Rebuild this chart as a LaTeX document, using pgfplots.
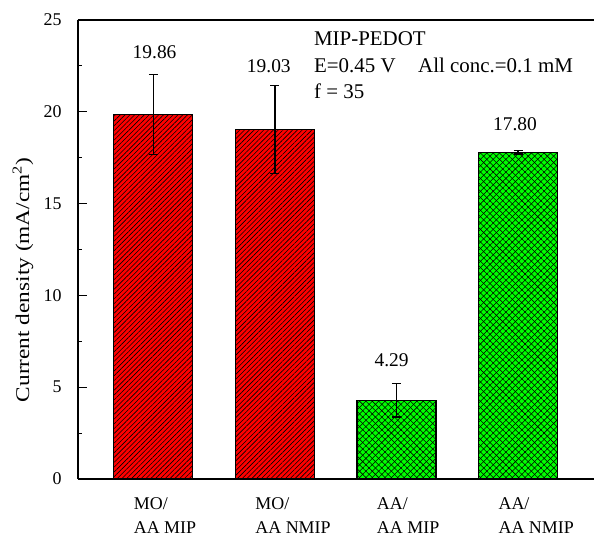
\documentclass[border=0pt]{standalone}
\usepackage{fontspec}
\setmainfont{Liberation Serif}
\usepackage{graphicx}
\usepackage{pgfplots}
\pgfplotsset{compat=1.18}
\usetikzlibrary{patterns.meta}
\begin{document}
\begin{tikzpicture}
\begin{axis}[
  scale only axis, width=516bp, height=459bp,
  xmin=-0.62, xmax=3.625, ymin=0, ymax=25,
  axis lines*=left,
  axis line style={line width=1.3bp, -},
  clip=false,
  ytick={0,5,10,15,20,25},
  minor ytick={2.5,7.5,12.5,17.5,22.5},
  tick align=inside,
  major tick length=9bp, minor tick length=4.5bp,
  every tick/.style={line width=1.1bp, black},
  xtick={0,1,2,3},
  xticklabels={{MO/\\AA MIP},{MO/\\AA NMIP},{AA/\\AA MIP},{AA/\\AA NMIP}},
  x tick style={draw=none},
  xticklabel style={font=\fontsize{18}{24}\selectfont, align=left, anchor=north west, xshift=-23bp, yshift=-15bp},
  yticklabel style={font=\fontsize{18}{20}\selectfont, xshift=-13bp},
  /pgf/number format/assume math mode=true,
  ylabel={\scalebox{1.2}[1]{Current density (mA/cm\textsuperscript{2})}},
  ylabel style={font=\fontsize{19.5}{22}\selectfont, at={(axis description cs:-0.1066,0.4336)}, anchor=center},
]
\addplot[ybar, bar width=79bp, bar shift=0pt, fill=red, draw=black, line width=1.2bp,
  postaction={pattern={Lines[angle=45,distance=3.4bp,line width=0.6bp]}, pattern color=black},
  error bars/.cd, y dir=both, y explicit,
  error bar style={line width=1.4bp, black},
  error mark options={rotate=90, mark size=4.5bp, line width=1.4bp, black}]
  coordinates {(0,19.86) +- (0,2.17) (1,19.03) +- (0,2.40)};
\addplot[ybar, bar width=79bp, bar shift=0pt, fill=green, draw=black, line width=1.2bp,
  postaction={pattern={Lines[angle=45,distance=4.5bp,line width=0.55bp]}, pattern color=black},
  postaction={pattern={Lines[angle=-45,distance=4.5bp,line width=0.55bp]}, pattern color=black},
  error bars/.cd, y dir=both, y explicit,
  error bar style={line width=1.4bp, black},
  error mark options={rotate=90, mark size=4.5bp, line width=1.4bp, black}]
  coordinates {(2,4.29) +- (0,0.92) (3,17.80) +- (0,0.10)};
\draw[line width=1.3bp] (rel axis cs:0,1) -- (rel axis cs:1,1);
\coordinate (O) at (rel axis cs:0,0);
\begin{scope}[font=\fontsize{19.5}{22}\selectfont]
\node[anchor=base] at (axis cs:0.01,22.91) {19.86};
\node[anchor=base] at (axis cs:0.95,22.15) {19.03};
\node[anchor=base] at (axis cs:1.96,6.15) {4.29};
\node[anchor=base] at (axis cs:2.975,18.97) {17.80};
\end{scope}
\begin{scope}[font=\fontsize{21}{24}\selectfont]
\node[anchor=base west, inner sep=0pt] at (axis cs:1.321,23.6) {MIP-PEDOT};
\node[anchor=base west, inner sep=0pt] at (axis cs:1.321,22.13) {E=0.45 V};
\node[anchor=base west, inner sep=0pt] at (axis cs:2.177,22.13) {All conc.=0.1 mM};
\node[anchor=base west, inner sep=0pt] at (axis cs:1.321,20.7) {f = 35};
\end{scope}
\end{axis}
\pgfresetboundingbox
\path[use as bounding box] (O) ++(-78bp,-59bp) rectangle ++(594bp,538bp);
\end{tikzpicture}
\end{document}
